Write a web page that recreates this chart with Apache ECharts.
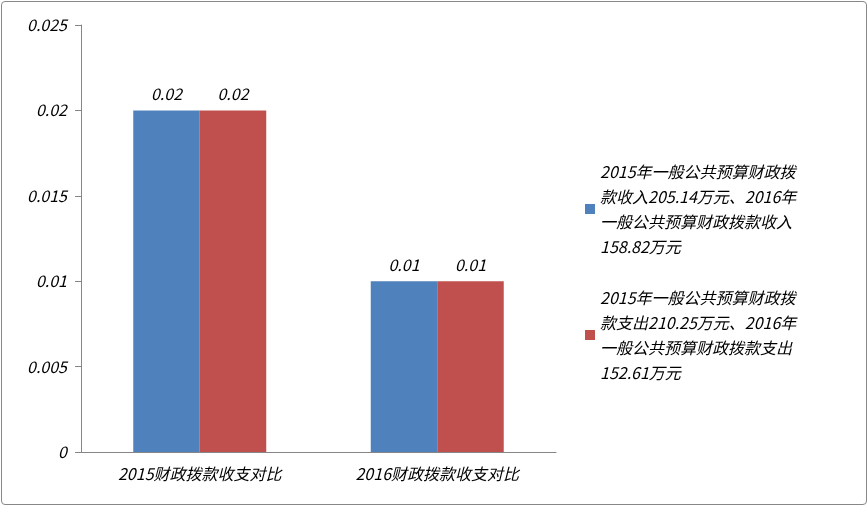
<!DOCTYPE html>
<html><head><meta charset="utf-8">
<script src="https://cdn.jsdelivr.net/npm/echarts@6/dist/echarts.min.js"></script>
<style>html,body{margin:0;padding:0;background:#fff}
#c{position:absolute;left:1px;top:1px;width:864px;height:502px;border:1px solid #888;border-radius:4px}</style>
</head><body><div id="c"></div>
<script>
const categories = ['2015财政拨款收支对比','2016财政拨款收支对比'];
const seriesNames = ['2015年一般公共预算财政拨款收入205.14万元、2016年一般公共预算财政拨款收入158.82万元',
                     '2015年一般公共预算财政拨款支出210.25万元、2016年一般公共预算财政拨款支出152.61万元'];
const legendWrapped = ['2015年一般公共预算财政拨\n款收入205.14万元、2016年\n一般公共预算财政拨款收入\n158.82万元',
                       '2015年一般公共预算财政拨\n款支出210.25万元、2016年\n一般公共预算财政拨款支出\n152.61万元'];
const incomeValues = [0.02, 0.01];
const expenseValues = [0.02, 0.01];
const yTicks = [0, 0.005, 0.01, 0.015, 0.02, 0.025];
const font = '"Noto Sans CJK SC", "Liberation Sans", sans-serif';
const chart = echarts.init(document.getElementById('c'));
const txt = {fontFamily: font, fontStyle: 'italic', fontSize: 16, color: '#000'};
chart.setOption({
  animation: false,
  grid: {left: 79, top: 23, width: 475, height: 427},
  xAxis: {type: 'category', data: categories,
    axisLine: {lineStyle: {color: '#868686'}}, axisTick: {length: 6, lineStyle: {color: '#868686'}},
    axisLabel: Object.assign({margin: 14}, txt)},
  yAxis: {type: 'value', min: 0, max: 0.025, interval: 0.005,
    axisLine: {show: true, lineStyle: {color: '#868686'}}, axisTick: {show: true, length: 6, lineStyle: {color: '#868686'}},
    splitLine: {show: false},
    axisLabel: Object.assign({margin: 14, formatter: v => String(+v.toFixed(3))}, txt)},
  legend: {orient: 'vertical', left: 578, top: 152, itemWidth: 10, itemHeight: 10, itemGap: 26, icon: 'rect',
    textStyle: Object.assign({lineHeight: 25}, txt),
    formatter: n => legendWrapped[seriesNames.indexOf(n)]},
  series: [
    {name: seriesNames[0], type: 'bar', data: incomeValues, barGap: '0%', barCategoryGap: '44%',
     itemStyle: {color: '#4f81bd'}, label: Object.assign({show: true, position: 'top', distance: 8}, txt)},
    {name: seriesNames[1], type: 'bar', data: expenseValues,
     itemStyle: {color: '#c0504d'}, label: Object.assign({show: true, position: 'top', distance: 8}, txt)}
  ]
});
</script></body></html>
